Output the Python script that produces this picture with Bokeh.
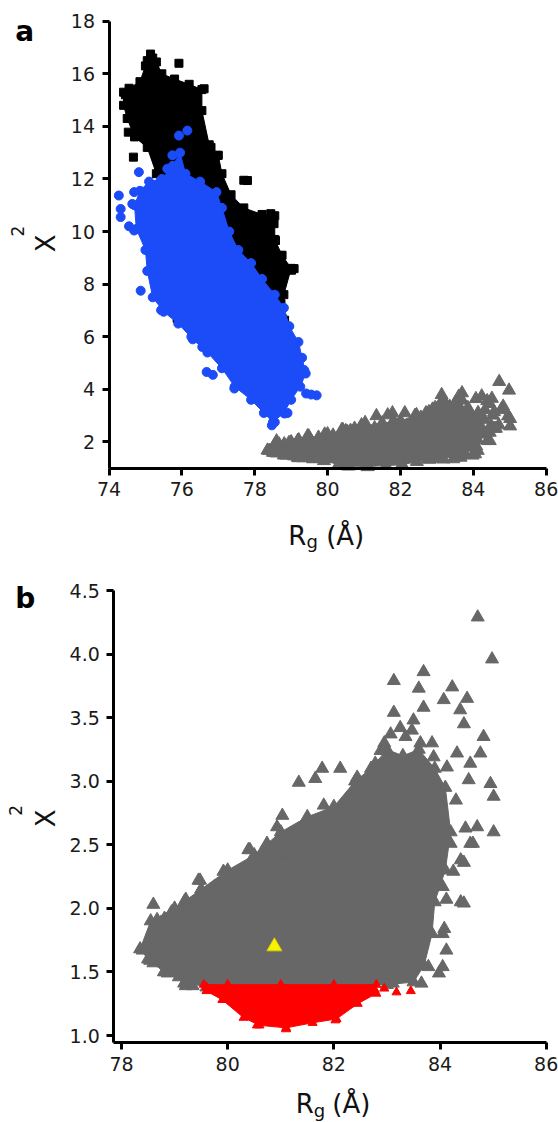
import math
from bokeh.plotting import figure
from bokeh.models import Range1d, FixedTicker, Label, NumeralTickFormatter
from bokeh.layouts import column
from bokeh.embed import file_html
from bokeh.resources import INLINE

# ---------------- data ----------------
# Panel a, black squares: outline of the dense core, then visible separate points
black_core_rg = [74.40, 74.55, 74.85, 75.00, 75.14, 75.30, 75.45, 75.80, 76.20, 76.55, 76.55, 76.75,
                 77.00, 77.10, 77.35, 77.70, 78.20, 78.55, 78.55, 78.75, 79.00, 78.80, 78.75, 78.90,
                 78.40, 77.50, 76.50, 75.60, 75.30, 75.05, 74.70, 74.50, 74.40]
black_core_chi = [15.30, 15.45, 15.70, 16.30, 16.75, 16.45, 16.00, 15.80, 15.60, 15.40, 14.60, 13.30,
                  12.90, 12.20, 11.40, 10.90, 10.65, 10.60, 9.70, 9.10, 8.60, 7.60, 6.70, 5.90,
                  6.20, 7.50, 9.00, 11.50, 12.20, 13.20, 13.60, 14.30, 14.80]
black_pts_rg = [75.92, 74.53, 74.67, 77.80, 77.70, 79.01, 78.72, 78.82, 78.92, 75.87, 76.61, 76.80,
                76.98, 75.05, 75.20, 78.44, 78.53, 78.57, 78.71, 79.08, 78.44, 74.45, 74.60]
black_pts_chi = [16.40, 13.78, 12.83, 11.94, 11.95, 8.53, 7.26, 6.63, 5.87, 6.70, 15.43, 13.20,
                 12.90, 16.50, 16.60, 10.68, 10.30, 9.66, 9.09, 8.59, 8.52, 15.20, 14.90]

# Panel a, blue circles
blue_core_rg = [74.85, 75.10, 75.45, 75.75, 75.95, 76.10, 76.50, 76.95, 77.10, 77.30, 77.55, 77.90,
                78.20, 78.55, 78.80, 78.95, 79.20, 79.30, 79.40, 79.25, 79.00, 78.80, 78.50, 78.25,
                77.90, 77.45, 77.10, 76.70, 76.30, 75.90, 75.50, 75.20, 75.05, 75.00, 74.75, 74.70]
blue_core_chi = [11.55, 11.90, 12.00, 12.50, 13.00, 12.20, 11.90, 11.50, 10.90, 10.00, 9.30, 8.80,
                 8.20, 7.60, 7.10, 6.40, 5.80, 5.20, 4.60, 4.10, 3.60, 3.10, 2.75, 3.10,
                 3.60, 4.10, 4.80, 5.40, 5.90, 6.50, 6.95, 7.50, 8.50, 9.30, 10.10, 11.00]
blue_pts_rg = [75.92, 76.15, 75.74, 74.82, 74.27, 74.69, 74.32, 74.32, 74.64, 75.60, 75.42, 74.87,
               75.43, 76.68, 76.85, 77.44, 78.47, 78.55, 79.70, 79.55, 79.41, 79.36, 78.90, 78.82,
               76.26, 76.56, 74.69, 74.55]
blue_pts_chi = [13.65, 13.84, 12.90, 12.26, 11.37, 11.50, 10.86, 10.55, 11.05, 12.39, 11.94, 7.75,
                7.01, 4.66, 4.55, 4.03, 2.63, 2.75, 3.77, 3.80, 3.84, 4.73, 3.10, 3.08,
                6.00, 5.61, 10.04, 10.20]

# Grey triangles (both panels)
grey_core_rg = [78.35, 78.55, 79.00, 79.50, 80.00, 80.50, 81.00, 81.50, 82.00, 82.40, 82.70, 83.00,
                83.30, 83.60, 83.90, 84.10, 84.20, 84.10, 83.90, 83.85, 83.70, 83.50, 83.00, 81.00,
                79.60, 79.20, 78.80, 78.50]
grey_core_chi = [1.68, 1.90, 2.00, 2.15, 2.30, 2.42, 2.60, 2.72, 2.80, 3.00, 3.10, 3.25,
                 3.20, 3.25, 3.10, 2.95, 2.60, 2.30, 2.05, 1.80, 1.55, 1.42, 1.40, 1.38,
                 1.38, 1.42, 1.50, 1.60]
grey_pts_rg = [84.71, 84.98, 83.13, 83.69, 83.60, 84.23, 84.51, 83.13, 83.69, 84.07, 83.47, 83.07,
               84.38, 84.45, 84.82, 84.32, 84.76, 84.57, 84.54, 84.95, 85.01, 84.70, 84.48, 85.01,
               84.57, 82.88, 82.78, 82.12, 81.78, 81.34, 81.65, 81.81, 81.03, 80.93, 82.44, 82.56,
               83.63, 83.88, 84.13, 83.79, 84.01, 84.20, 78.60, 78.67, 79.18, 79.48, 79.92, 80.39,
               80.63, 81.03, 81.29, 78.54, 78.87, 79.18, 83.65, 84.05, 84.12, 84.05, 84.39, 84.12,
               84.45, 84.62, 83.11, 80.74,
               83.98, 83.78, 84.08, 84.45, 84.25, 84.39, 84.05, 83.88, 78.81, 78.94, 79.21, 79.45,
               79.75, 80.15, 80.42, 80.55, 78.40, 78.60, 78.81, 79.08, 79.21, 79.34, 83.35, 83.85,
               83.50, 84.30, 82.95, 83.25]
grey_pts_chi = [4.29, 3.96, 3.79, 3.86, 3.73, 3.74, 3.65, 3.54, 3.58, 3.64, 3.40, 3.37,
                3.56, 3.45, 3.35, 3.22, 3.22, 3.14, 3.01, 2.98, 2.88, 2.64, 2.63, 2.60,
                2.51, 3.24, 3.14, 3.10, 3.10, 2.99, 3.02, 2.81, 2.73, 2.64, 3.03, 2.93,
                3.30, 3.19, 3.11, 3.01, 2.80, 2.51, 2.03, 1.91, 2.05, 2.22, 2.29, 2.46,
                2.43, 2.43, 2.53, 1.59, 1.49, 1.41, 1.41, 1.54, 1.67, 1.80, 2.05, 2.07,
                2.36, 2.51, 1.41, 2.51,
                1.49, 1.54, 1.84, 2.04, 2.29, 2.38, 2.17, 2.46, 1.92, 1.97, 2.07, 2.22,
                2.17, 2.25, 2.46, 2.38, 1.67, 1.57, 1.50, 1.46, 1.39, 1.39, 3.35, 3.30,
                3.48, 2.85, 3.30, 3.42]

# Red subset (lowest chi^2), grey in panel a
red_core_rg = [79.55, 80.00, 81.00, 82.00, 82.80, 82.80, 82.45, 82.05, 81.60, 81.10, 80.60, 80.30,
               79.90, 79.60]
red_core_chi = [1.40, 1.40, 1.40, 1.40, 1.40, 1.33, 1.25, 1.13, 1.10, 1.06, 1.08, 1.14,
                1.28, 1.35]
red_pts_rg = [83.18, 83.45, 82.95, 82.77, 79.60, 79.70, 82.03, 80.55, 81.10]
red_pts_chi = [1.34, 1.35, 1.37, 1.36, 1.38, 1.36, 1.12, 1.08, 1.05]

# Highlighted (yellow) model
best_rg = [80.88]
best_chi = [1.70]

# Axis ticks and extents
a_xticks = [74, 76, 78, 80, 82, 84, 86]
a_yticks = [2, 4, 6, 8, 10, 12, 14, 16, 18]
b_xticks = [78, 80, 82, 84, 86]
b_yticks = [1.0, 1.5, 2.0, 2.5, 3.0, 3.5, 4.0, 4.5]
a_xaxis = (74, 86)
a_yaxis = (1, 18)
b_xaxis = (77.855, 86)
b_yaxis = (0.9426, 4.5)

BLACK = "#000000"
BLUE = "#1c4cf8"
GREY = "#676767"
RED = "#ff0000"
YELLOW = "#f8f400"
FONT = "DejaVu Sans"

W = 558     # Bokeh's page template has no body margin: canvas starts at (0, 0)
OX, OY = 0, 0


def make_fig(h, xr, yr, xt, yt, xax, yax):
    p = figure(frame_width=W, frame_height=h, min_border=0,
               x_range=Range1d(*xr), y_range=Range1d(*yr),
               output_backend="svg", toolbar_location=None)
    p.xaxis.ticker = FixedTicker(ticks=xt)
    p.yaxis.ticker = FixedTicker(ticks=yt)
    p.xaxis.fixed_location = yax[0]
    p.yaxis.fixed_location = xax[0]
    p.xaxis.bounds = xax
    p.yaxis.bounds = yax
    for ax in (p.xaxis[0], p.yaxis[0]):
        ax.axis_line_width = 3
        ax.axis_line_color = "black"
        ax.major_tick_line_width = 3
        ax.major_tick_line_color = "black"
        ax.major_tick_out = 7
        ax.major_tick_in = 0
        ax.minor_tick_line_color = None
        ax.major_label_text_font = FONT
        ax.major_label_text_font_size = "19px"
        ax.major_label_text_color = "#1a1a1a"
    p.xaxis.major_label_standoff = 7
    p.yaxis.major_label_standoff = 7
    p.grid.visible = False
    p.outline_line_color = None
    p.background_fill_color = "white"
    p.border_fill_color = "white"
    return p


def add_texts(p, letter, lx, ly, xl_r, xl_g, xl_par, xl_y, xl_gy, yl_x, yl_y, yl2_x, yl2_y):
    p.add_layout(Label(x=lx, y=ly, text=letter, text_font=FONT, text_font_style="bold",
                       text_font_size="28px", text_color="black", text_baseline="alphabetic"))
    p.add_layout(Label(x=xl_r, y=xl_y, text="R", text_font=FONT, text_font_size="26px",
                       text_color="#111111", text_baseline="alphabetic"))
    p.add_layout(Label(x=xl_g, y=xl_gy, text="g", text_font=FONT, text_font_size="18px",
                       text_color="#111111", text_baseline="alphabetic"))
    p.add_layout(Label(x=xl_par, y=xl_y, text="(Å)", text_font=FONT, text_font_size="26px",
                       text_color="#111111", text_baseline="alphabetic"))
    p.add_layout(Label(x=yl_x, y=yl_y, text="X", angle=math.pi / 2, text_font=FONT,
                       text_font_size="26px", text_color="#111111", text_align="center",
                       text_baseline="alphabetic"))
    p.add_layout(Label(x=yl2_x, y=yl2_y, text="2", angle=math.pi / 2, text_font=FONT,
                       text_font_size="17px", text_color="#111111", text_align="center",
                       text_baseline="alphabetic"))


# ---------------- panel a ----------------
# page geometry: x axis 74..86 spans px 108.5..545.7, y axis 18..1 spans py 20.7..467.7
ax_s = (545.7 - 108.5) / 12.0
ay_s = (467.7 - 20.7) / 17.0
HA = 560
a_xr = (74 - (108.5 - OX) / ax_s, 86 + (OX + W - 545.7) / ax_s)
a_yr = (1 - (OY + HA - 467.7) / ay_s, 18 + (20.7 - OY) / ay_s)
pa = make_fig(HA, a_xr, a_yr, a_xticks, a_yticks, a_xaxis, a_yaxis)

pa.patch(black_core_rg, black_core_chi, fill_color=BLACK, line_color=BLACK)
pa.scatter(black_core_rg, black_core_chi, marker="square", size=8, fill_color=BLACK, line_color=BLACK)
pa.scatter(black_pts_rg, black_pts_chi, marker="square", size=8, fill_color=BLACK, line_color=BLACK)

pa.patch(blue_core_rg, blue_core_chi, fill_color=BLUE, line_color=BLUE)
pa.scatter(blue_core_rg, blue_core_chi, marker="circle", size=9, fill_color=BLUE, line_color=BLUE)
pa.scatter(blue_pts_rg, blue_pts_chi, marker="circle", size=9, fill_color=BLUE, line_color=BLUE)

pa.patch(grey_core_rg, grey_core_chi, fill_color=GREY, line_color=GREY)
pa.patch(red_core_rg, red_core_chi, fill_color=GREY, line_color=GREY)
for xs, ys in ((grey_core_rg, grey_core_chi), (grey_pts_rg, grey_pts_chi),
               (red_core_rg, red_core_chi), (red_pts_rg, red_pts_chi)):
    pa.scatter(xs, ys, marker="triangle", size=13, fill_color=GREY, line_color=GREY)

# page px -> data: x = 74 + (px-108.5)/ax_s ; y = 18 - (py-20.7)/ay_s
add_texts(pa, "a", 71.43, 17.60,
          78.92, 79.42, 79.96, -1.57, -1.80,
          72.26, 9.55, 71.49, 10.02)

# ---------------- panel b ----------------
# page geometry: x 78..86 spans px 121..545.7, y 4.5..1.0 spans py 590..1035
bx_s = (545.7 - 121) / 8.0
by_s = (1035 - 590) / 3.5
HB = 562
top_b = OY + HA
b_xr = (78 - (121 - OX) / bx_s, 86 + (OX + W - 545.7) / bx_s)
b_yr = (1 - (top_b + HB - 1035) / by_s, 4.5 + (590 - top_b) / by_s)
pb = make_fig(HB, b_xr, b_yr, b_xticks, b_yticks, b_xaxis, b_yaxis)
pb.yaxis.formatter = NumeralTickFormatter(format="0.0")

pb.patch(grey_core_rg, grey_core_chi, fill_color=GREY, line_color=GREY)
pb.scatter(grey_core_rg, grey_core_chi, marker="triangle", size=13, fill_color=GREY, line_color=GREY)
pb.scatter(grey_pts_rg, grey_pts_chi, marker="triangle", size=13, fill_color=GREY, line_color=GREY)
pb.patch(red_core_rg, red_core_chi, fill_color=RED, line_color=RED)
pb.scatter(red_core_rg, red_core_chi, marker="triangle", size=9, fill_color=RED, line_color=RED)
pb.scatter(red_pts_rg, red_pts_chi, marker="triangle", size=9, fill_color=RED, line_color=RED)
pb.scatter(best_rg, best_chi, marker="triangle", size=15, fill_color=YELLOW, line_color="#d8d000")

# page px -> data: x = 78 + (px-121)/bx_s ; y = 1 + (1035-py)/by_s
add_texts(pb, "b", 76.0, 4.44,
          81.28, 81.62, 81.97, 0.46, 0.41,
          76.57, 2.707, 76.01, 2.77)

layout = column(pa, pb)
open("out.html", "w").write(file_html(layout, INLINE))
